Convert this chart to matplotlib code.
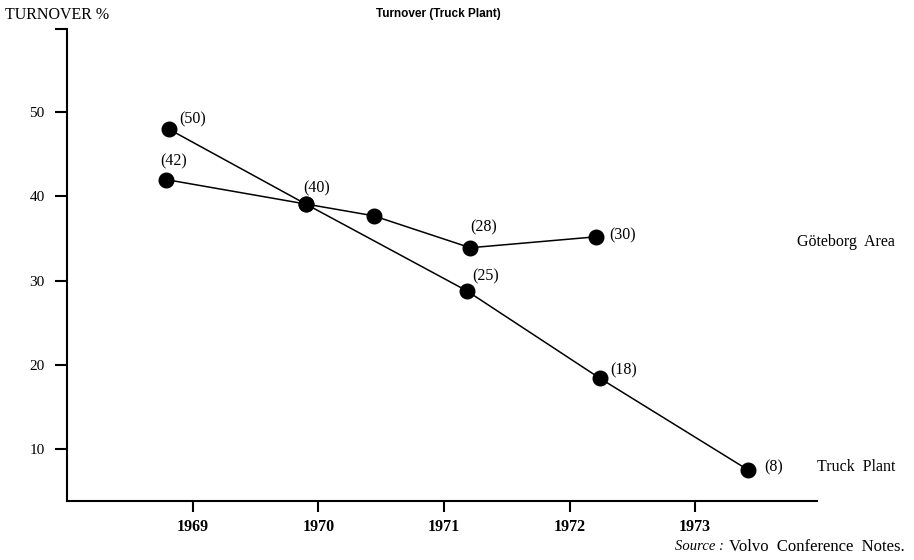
import matplotlib.pyplot as plt

# values (positions of the dots, not the printed labels)
truck_years = [1968.81, 1969.90, 1971.18, 1972.24, 1973.42]
truck_values = [48.0, 39.1, 28.8, 18.4, 7.5]
truck_labels = ["(50)", None, "(25)", "(18)", "(8)"]

goteborg_years = [1968.79, 1969.90, 1970.44, 1971.21, 1972.21]
goteborg_values = [42.0, 39.1, 37.7, 33.9, 35.2]
goteborg_labels = ["(42)", "(40)", None, "(28)", "(30)"]

year_ticks = [1969, 1970, 1971, 1972, 1973]
value_ticks = [10, 20, 30, 40, 50]

serif = "Liberation Serif"

fig = plt.figure(figsize=(9.14, 5.6), dpi=100)
ax = fig.add_axes([0.0733, 0.1054, 0.8206, 0.8428])

ax.plot(truck_years, truck_values, color="black", lw=1.1, marker="o",
        markersize=10.5, zorder=3)
ax.plot(goteborg_years, goteborg_values, color="black", lw=1.1, marker="o",
        markersize=10.5, zorder=3)

# label offsets in pixels from each dot
truck_offsets = [(10, 10, "left"), None, (19, 14, "center"), (11, 8, "left"), (16, 2, "left")]
goteborg_offsets = [(7, 18, "center"), (11, 16, "center"), None, (13, 20, "center"), (13, 1, "left")]

for years, values, labels, offsets in [
    (truck_years, truck_values, truck_labels, truck_offsets),
    (goteborg_years, goteborg_values, goteborg_labels, goteborg_offsets),
]:
    for x, y, lab, off in zip(years, values, labels, offsets):
        if lab is None:
            continue
        dx, dy, ha = off
        ax.annotate(lab, (x, y), xytext=(dx, dy), textcoords="offset pixels",
                    ha=ha, va="center", fontsize=11.5, family=serif)

ax.set_xlim(1968.0, 1973.97)
ax.set_ylim(3.8, 59.9)

ax.set_xticks(year_ticks)
ax.set_xticklabels([str(y) for y in year_ticks], family=serif,
                   fontsize=11.5, fontweight="bold")
# unlabelled tick caps the top of the axis
ax.set_yticks(value_ticks + [59.9])
ax.set_yticklabels([str(v) for v in value_ticks] + [""], family=serif,
                   fontsize=11)

ax.tick_params(axis="x", direction="out", length=8, width=1.5, pad=5)
ax.tick_params(axis="y", direction="out", length=9, width=1.5, pad=7)

for side in ["top", "right"]:
    ax.spines[side].set_visible(False)
for side in ["left", "bottom"]:
    ax.spines[side].set_linewidth(1.5)

# texts around the plot
fig.text(5 / 914, 1 - 15 / 560, "TURNOVER %", family=serif, fontsize=11.5,
         ha="left", va="center")
fig.text(438 / 914, 1 - 14 / 560, "Turnover (Truck Plant)", family="Liberation Sans",
         fontsize=8.5, fontweight="bold", ha="center", va="center")
fig.text(895 / 914, 1 - 242 / 560, "Göteborg  Area", family=serif, fontsize=11.5,
         ha="right", va="center")
fig.text(895 / 914, 1 - 467 / 560, "Truck  Plant", family=serif, fontsize=11.5,
         ha="right", va="center")
fig.text(675 / 914, 1 - 547 / 560, "Source :", family=serif, fontsize=10.5,
         style="italic", ha="left", va="center")
fig.text(905 / 914, 1 - 547 / 560, "Volvo  Conference  Notes.", family=serif,
         fontsize=12, ha="right", va="center")

fig.savefig("out.png", dpi=100)
plt.close(fig)
